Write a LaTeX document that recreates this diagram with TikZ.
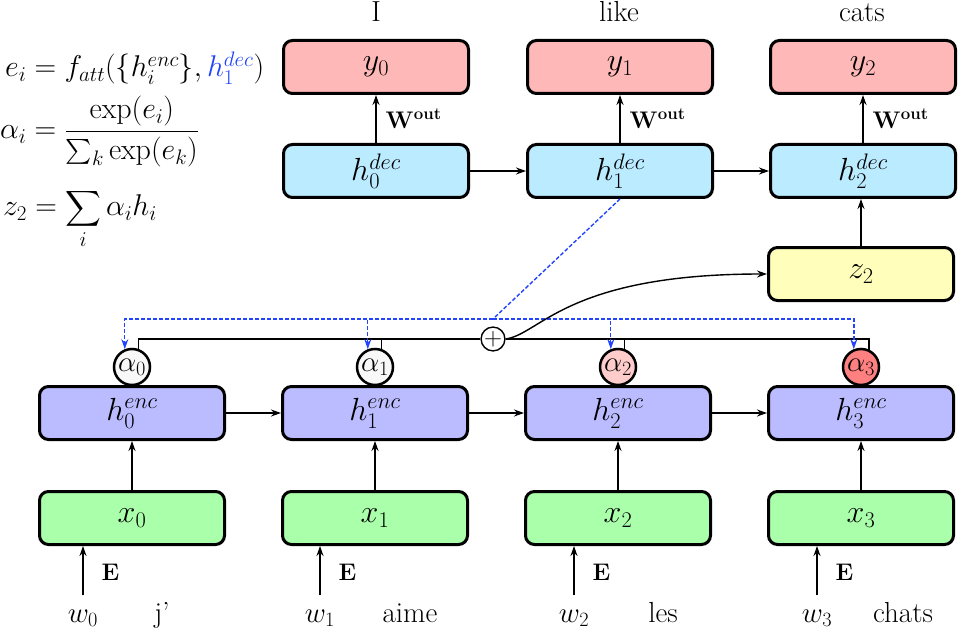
\documentclass[tikz,border=0pt]{standalone}
\usepackage{fix-cm}
\usepackage{amsmath}
\usetikzlibrary{arrows.meta,calc}
\definecolor{ypink}{RGB}{255,184,184}
\definecolor{decblue}{RGB}{187,235,255}
\definecolor{encblue}{RGB}{187,187,255}
\definecolor{xgreen}{RGB}{170,255,170}
\definecolor{zyellow}{RGB}{255,255,187}
\definecolor{aone}{RGB}{248,248,248}
\definecolor{atwo}{RGB}{255,204,204}
\definecolor{athree}{RGB}{255,128,128}
\definecolor{attblue}{RGB}{34,68,255}
\begin{document}
\begin{tikzpicture}[x=1pt,y=-1pt,
  box/.style={draw, line width=3pt, rounded corners=9pt, minimum width=185pt, minimum height=53pt, inner sep=0pt, font=\fontsize{32}{38}\selectfont},
  ybox/.style={box, fill=ypink},
  dbox/.style={box, fill=decblue},
  ebox/.style={box, fill=encblue},
  xbox/.style={box, fill=xgreen},
  zbox/.style={box, fill=zyellow},
  acirc/.style={draw, circle, line width=2.5pt, minimum size=36pt, inner sep=0pt, font=\fontsize{29}{33}\selectfont},
  arr/.style={line width=1.4pt, -{Stealth[length=10pt,width=7pt]}},
  conn/.style={line width=1.4pt},
  att/.style={draw=attblue, line width=1.4pt, dash pattern=on 4pt off 2pt},
  attarr/.style={att, -{Stealth[length=10pt,width=7pt]}},
  lbl/.style={font=\fontsize{29}{33}\selectfont, inner sep=0pt},
  elbl/.style={font=\fontsize{24}{28}\selectfont, inner sep=0pt},
  eqn/.style={font=\fontsize{30}{36}\selectfont, inner sep=0pt, anchor=base west}
]
\useasboundingbox (0,0) rectangle (960,628);

% equations
\node[eqn] (eq1) at (5,77) {$e_i = f_{att}(\{h_i^{enc}\}, {\color{attblue}h_1^{dec}})$};
\node[eqn] (eq2) at (0,139) {$\alpha_i = \dfrac{\exp(e_i)}{\sum_k \exp(e_k)}$};
\node[eqn] (eq3) at (3,216) {$z_2 = \displaystyle\sum_i \alpha_i h_i$};

% top labels
\node[lbl, anchor=base] (tI) at (376,22) {I};
\node[lbl, anchor=base] (tlike) at (619,22) {like};
\node[lbl, anchor=base] (tcats) at (862,22) {cats};

% decoder outputs
\node[ybox] (y0) at (376,67) {$y_0$};
\node[ybox] (y1) at (620,67) {$y_1$};
\node[ybox] (y2) at (863,67) {$y_2$};

% decoder states
\node[dbox] (d0) at (376,171) {$h_0^{dec}$};
\node[dbox] (d1) at (620,171) {$h_1^{dec}$};
\node[dbox] (d2) at (863,171) {$h_2^{dec}$};

% context
\node[zbox] (z2) at (861,274) {$z_2$};

% attention weights
\node[acirc, fill=aone] (a0) at (132,367) {$\alpha_0$};
\node[acirc, fill=aone] (a1) at (375,367) {$\alpha_1$};
\node[acirc, fill=atwo] (a2) at (618,367) {$\alpha_2$};
\node[acirc, fill=athree] (a3) at (861,367) {$\alpha_3$};

% sum
\node[draw, circle, line width=1.4pt, fill=white, minimum size=21pt, inner sep=0pt, font=\fontsize{25}{27}\selectfont] (plus) at (493,339) {$+$};

% encoder states
\node[ebox] (h0) at (132,413) {$h_0^{enc}$};
\node[ebox] (h1) at (375,413) {$h_1^{enc}$};
\node[ebox] (h2) at (618,413) {$h_2^{enc}$};
\node[ebox] (h3) at (861,413) {$h_3^{enc}$};

% embeddings
\node[xbox] (x0) at (132,518) {$x_0$};
\node[xbox] (x1) at (375,518) {$x_1$};
\node[xbox] (x2) at (618,518) {$x_2$};
\node[xbox] (x3) at (861,518) {$x_3$};

% input words
\node[lbl, anchor=base] (w0) at (83,622) {$w_0$};
\node[lbl, anchor=base] (w1) at (320,622) {$w_1$};
\node[lbl, anchor=base] (w2) at (574,622) {$w_2$};
\node[lbl, anchor=base] (w3) at (817,622) {$w_3$};
\node[lbl, anchor=base] (s0) at (162,622) {j’};
\node[lbl, anchor=base] (s1) at (410,622) {aime};
\node[lbl, anchor=base] (s2) at (663,622) {les};
\node[lbl, anchor=base] (s3) at (903,622) {chats};

% embedding arrows
\foreach \i in {0,1,2,3}{
  \draw[arr] ([yshift=14pt]w\i.north) -- (w\i.north |- x\i.south)
    node[midway, elbl, anchor=west, xshift=18pt, yshift=-2pt] {$\mathbf{E}$};
  \draw[arr] (x\i) -- (h\i);
}
\draw[arr] (h0) -- (h1);
\draw[arr] (h1) -- (h2);
\draw[arr] (h2) -- (h3);

% decoder arrows
\draw[arr] (d0) -- (d1);
\draw[arr] (d1) -- (d2);
\draw[arr] (z2.north) -- (z2.north |- d2.south);
\draw[arr] (d0) -- (y0) node[midway, elbl, anchor=west, xshift=9pt] {$\mathbf{W^{out}}$};
\draw[arr] (d1) -- (y1) node[midway, elbl, anchor=west, xshift=9pt] {$\mathbf{W^{out}}$};
\draw[arr] (d2) -- (y2) node[midway, elbl, anchor=west, xshift=9pt] {$\mathbf{W^{out}}$};

% weighted sum lines
\draw[conn] (a0.70) |- (plus.west);
\draw[conn] (a1.70) |- (plus.west);
\draw[conn] (a2.70) |- (plus.east);
\draw[conn] (a3.65) |- (plus.east);

% attention query lines
\path (plus) ++(0,-20) coordinate (bj);
\draw[att] (d1.south) -- (bj);
\draw[attarr] (bj) -| (a0.112);
\draw[attarr] (bj) -| (a1.112);
\draw[attarr] (bj) -| (a2.112);
\draw[attarr] (bj) -| (a3.112);

% context curve
\draw[arr] (plus.east) .. controls +(35,-5) and +(-200,0) .. (z2.west);
\end{tikzpicture}
\end{document}
